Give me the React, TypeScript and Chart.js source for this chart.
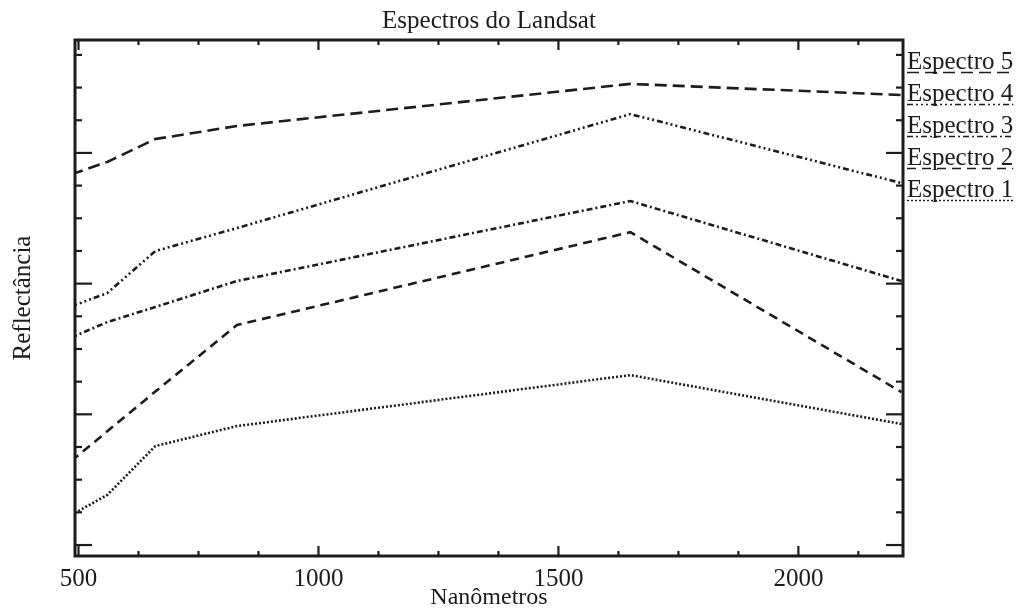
import React, { useEffect, useRef } from "react";
import { Chart, registerables } from "chart.js";

Chart.register(...registerables);

// ---- Data ----
const WAVELENGTHS = [485, 560, 660, 830, 1650, 2215];
const ESPECTRO_1 = [0.023, 0.0383, 0.0757, 0.091, 0.13, 0.0926];
const ESPECTRO_2 = [0.0643, 0.087, 0.1174, 0.1683, 0.2394, 0.117];
const ESPECTRO_3 = [0.1587, 0.1706, 0.1821, 0.202, 0.2632, 0.202];
const ESPECTRO_4 = [0.1825, 0.1928, 0.2249, 0.2425, 0.3297, 0.2769];
const ESPECTRO_5 = [0.2836, 0.2931, 0.3106, 0.3206, 0.3528, 0.3443];
const SERIES_LABELS = ["Espectro 1", "Espectro 2", "Espectro 3", "Espectro 4", "Espectro 5"];
const X_TICK_LABELS = [500, 1000, 1500, 2000];

const TITLE = "Espectros do Landsat";
const X_TITLE = "Nanômetros";
const Y_TITLE = "Reflectância";

const X_MIN = 492.7;
const X_MAX = 2218;
const Y_MIN = -0.0084;
const Y_MAX = 0.3864;
const X_MINOR_STEP = 125;
const Y_MINOR_STEP = 0.025;
const MINOR_PER_MAJOR = 4;

const INK = "#1c1c1c";
const FONT = "'Liberation Serif', 'Times New Roman', serif";
const DASHES = [
  [2, 2],
  [9, 6],
  [6, 3, 2, 3],
  [6, 3, 2, 3, 2, 3, 2, 3],
  [12, 6],
];

const frameLegendPlugin = {
  id: "frameLegend",
  afterDatasetsDraw(chart: any) {
    const { ctx, chartArea: a, scales } = chart;
    const xs = scales.x;
    const ys = scales.y;
    ctx.save();
    ctx.strokeStyle = INK;
    ctx.setLineDash([]);
    const seg = (x1: number, y1: number, x2: number, y2: number) => {
      ctx.beginPath();
      ctx.moveTo(x1, y1);
      ctx.lineTo(x2, y2);
      ctx.stroke();
    };
    // ticks (inward, all four sides)
    ctx.lineWidth = 2.2;
    for (let k = 0; ; k++) {
      const v = X_TICK_LABELS[0] + k * X_MINOR_STEP;
      if (v > xs.max) break;
      const px = xs.getPixelForValue(v);
      const len = k % MINOR_PER_MAJOR === 0 ? 10 : 5;
      seg(px, a.bottom, px, a.bottom - len);
      seg(px, a.top, px, a.top + len);
    }
    for (let k = 0; ; k++) {
      const v = k * Y_MINOR_STEP;
      if (v > ys.max) break;
      const py = ys.getPixelForValue(v);
      const len = k % MINOR_PER_MAJOR === 0 ? 17 : 7;
      seg(a.left, py, a.left + len, py);
      seg(a.right, py, a.right - len, py);
    }
    // frame
    ctx.lineWidth = 3;
    ctx.strokeRect(a.left, a.top, a.right - a.left, a.bottom - a.top);

    // legend (text with line-style underline)
    ctx.font = `25px ${FONT}`;
    ctx.fillStyle = INK;
    ctx.textBaseline = "alphabetic";
    ctx.textAlign = "left";
    const n = chart.data.datasets.length;
    for (let i = n - 1; i >= 0; i--) {
      const row = n - 1 - i;
      const ds = chart.data.datasets[i];
      const x = a.right + 4;
      const y = a.top + 29 + row * 32;
      ctx.fillText(ds.label, x, y);
      const w = ctx.measureText(ds.label).width;
      ctx.lineWidth = 1.4;
      ctx.setLineDash(ds.borderDash || []);
      seg(x, y + 3.5, x + w, y + 3.5);
      ctx.setLineDash([]);
    }
    ctx.restore();
  },
};

export default function App() {
  const ref = useRef<HTMLCanvasElement | null>(null);

  useEffect(() => {
    if (!ref.current) return;
    const seriesValues = [ESPECTRO_1, ESPECTRO_2, ESPECTRO_3, ESPECTRO_4, ESPECTRO_5];
    const chart = new Chart(ref.current, {
      type: "line",
      data: {
        datasets: seriesValues.map((vals, i) => ({
          label: SERIES_LABELS[i],
          data: WAVELENGTHS.map((w, j) => ({ x: w, y: vals[j] })),
          borderColor: INK,
          borderWidth: 2.6,
          borderDash: DASHES[i],
          pointRadius: 0,
          tension: 0,
          fill: false,
        })),
      },
      options: {
        animation: false,
        responsive: false,
        maintainAspectRatio: false,
        layout: { padding: { left: 0, right: 115, top: 0, bottom: 0 } },
        plugins: {
          legend: { display: false },
          tooltip: { enabled: false },
          title: {
            display: true,
            text: TITLE,
            fullSize: false,
            color: INK,
            font: { family: FONT, size: 25, weight: "normal" },
            padding: { top: 6, bottom: 4 },
          },
        },
        scales: {
          x: {
            type: "linear",
            min: X_MIN,
            max: X_MAX,
            grid: { display: false, drawTicks: false },
            border: { display: false },
            afterBuildTicks: (s: any) => {
              s.ticks = X_TICK_LABELS.map((v) => ({ value: v }));
            },
            ticks: {
              color: INK,
              font: { family: FONT, size: 25 },
              padding: 8,
              maxRotation: 0,
              autoSkip: false,
              callback: (v: any) => String(v),
            },
            title: {
              display: true,
              text: X_TITLE,
              color: INK,
              font: { family: FONT, size: 24 },
              padding: { top: -3, bottom: 0 },
            },
            afterFit: (s: any) => {
              s.height = 56;
            },
          },
          y: {
            type: "linear",
            min: Y_MIN,
            max: Y_MAX,
            grid: { display: false, drawTicks: false },
            border: { display: false },
            ticks: { display: false },
            title: {
              display: true,
              text: Y_TITLE,
              color: INK,
              font: { family: FONT, size: 25 },
              padding: { top: 8, bottom: 0 },
            },
            afterFit: (s: any) => {
              s.width = 75;
            },
          },
        },
      },
      plugins: [frameLegendPlugin],
    } as any);
    return () => chart.destroy();
  }, []);

  return (
    <div style={{ position: "fixed", left: 0, top: 0, width: 1018, height: 612, background: "#fff" }}>
      <canvas ref={ref} width={1018} height={612} style={{ display: "block" }} />
    </div>
  );
}
